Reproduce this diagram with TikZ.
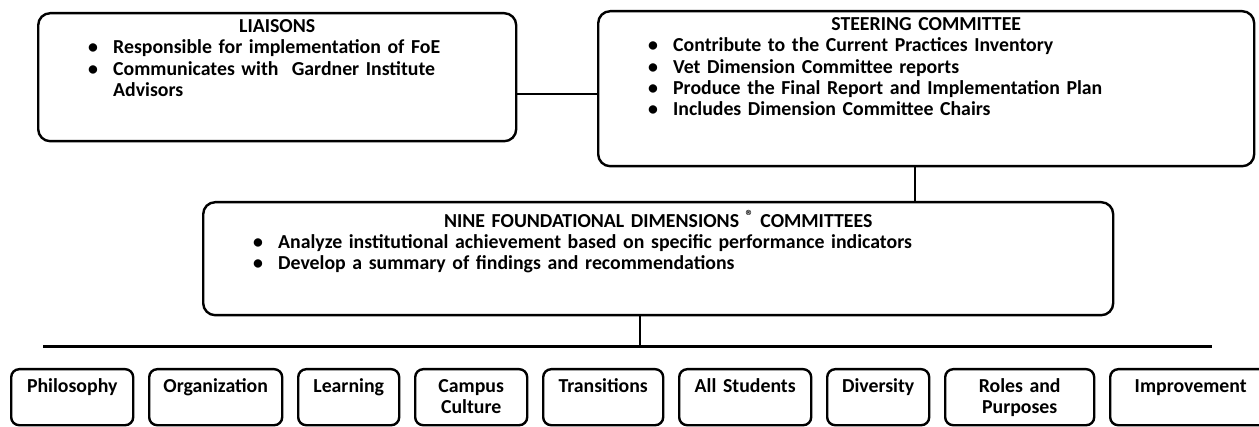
\documentclass[tikz,border=0pt]{standalone}
\usepackage{fontspec}
\setmainfont{Carlito}
\usepackage{tikz}
\usetikzlibrary{positioning}

\setlength{\parindent}{0pt}
\newcommand{\heading}[1]{{\centering #1\par}}
\newcommand{\point}[1]{\hspace*{25pt}\makebox[12.5pt][l]{\textbullet}#1\par}

\begin{document}
\begin{tikzpicture}[
    x=0.5pt, y=-0.5pt,
    node distance=6.8pt,
    every node/.style={font=\fontsize{9.9}{10.6}\selectfont\bfseries},
    panel/.style={draw, line width=1.2pt, rounded corners=6pt, inner sep=0pt, anchor=north west, align=left},
    dim/.style={draw, line width=1.2pt, rounded corners=4pt, inner sep=0pt, anchor=north west, align=center, text height=11.5pt, text depth=16.5pt},
    link/.style={line width=0.9pt},
    bus/.style={line width=1.5pt}
]
    \useasboundingbox (0,0) rectangle (1259,427);

    \node[panel, text width=239pt, text height=9.8pt, text depth=54.2pt] (liaisons) at (37,12) {%
        \heading{LIAISONS}
        \point{Responsible for implementation of FoE}
        \point{Communicates with\ \ Gardner Institute}
        \hspace*{37.5pt}Advisors};
    \node[panel, text width=328pt, text height=9.8pt, text depth=67.7pt] (steering) at (597,10) {%
        \heading{STEERING COMMITTEE}
        \point{Contribute to the Current Practices Inventory}
        \point{Vet Dimension Committee reports}
        \point{Produce the Final Report and Implementation Plan}
        \point{Includes Dimension Committee Chairs}};
    \node[panel, text width=455pt, text height=12.5pt, text depth=44pt] (dims) at (202,201) {%
        \heading{NINE FOUNDATIONAL DIMENSIONS {\footnotesize\raisebox{3pt}{®}} COMMITTEES}
        \point{Analyze institutional achievement based on specific performance indicators}
        \point{Develop a summary of findings and recommendations}};

    \coordinate (handoff) at (556,94);
    \coordinate (busleft) at (43,347);
    \coordinate (busright) at (1212,347);

    \node[dim, text width=61pt] (philosophy) at (10,368) {Philosophy};
    \node[dim, text width=66.5pt, right=of philosophy] (organization) {Organization};
    \node[dim, text width=50.5pt, right=of organization] (learning) {Learning};
    \node[dim, text width=56pt, right=of learning] (culture) {Campus\\Culture};
    \node[dim, text width=60pt, right=of culture] (transitions) {Transitions};
    \node[dim, text width=66pt, right=of transitions] (students) {All Students};
    \node[dim, text width=51pt, right=of students] (diversity) {Diversity};
    \node[dim, text width=74.5pt, right=of diversity] (roles) {Roles and\\Purposes};
    \node[dim, text width=80.5pt, right=of roles] (improvement) {Improvement};

    \draw[link] (liaisons.east |- handoff) -- (steering.west |- handoff);
    \draw[link] ([xshift=-5.5pt]steering.south) -- ([xshift=-5.5pt]steering.south |- dims.north);
    \draw[link] ([xshift=-9pt]dims.south) -- ([xshift=-9pt]dims.south |- busleft);
    \draw[bus] (busleft) -- (busright);
\end{tikzpicture}
\end{document}
